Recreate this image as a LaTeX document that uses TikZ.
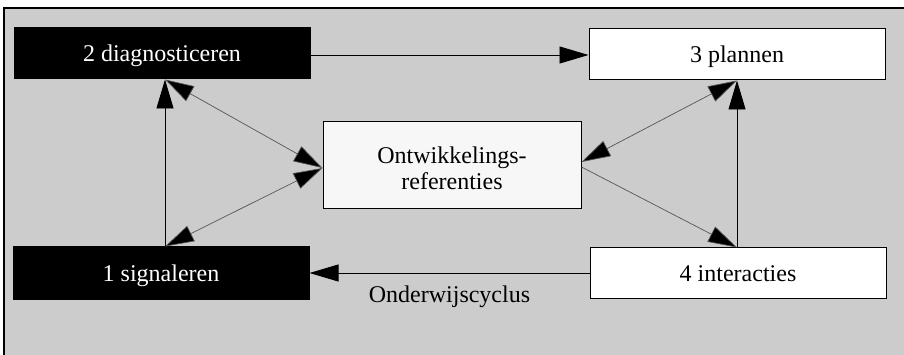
\documentclass[tikz,border=0pt]{standalone}
\usepackage{fontspec}
\setmainfont{Liberation Serif}
\usetikzlibrary{arrows.meta}
\definecolor{bggray}{HTML}{CCCCCC}
\definecolor{boxwhite}{HTML}{F7F7F7}
\definecolor{thingray}{HTML}{555555}
\tikzset{
  base/.style={font=\fontsize{24}{26}\selectfont, inner sep=0pt, text height=17pt, text depth=0pt, align=center},
  blackbox/.style={base, draw=black, fill=black, text=white, line width=1pt},
  whitebox/.style={base, draw=black, fill=white, text=black, line width=1pt},
  refbox/.style={base, draw=black, fill=boxwhite, text=black, line width=1pt, text height=49pt},
  mainarrow/.style={draw=black, line width=0.9pt, -{Triangle[length=29pt,width=17pt]}},
  thinarrow/.style={draw=thingray, line width=0.7pt, {Triangle[length=29pt,width=17pt,fill=black]}-{Triangle[length=29pt,width=17pt,fill=black]}},
  thinonearrow/.style={draw=thingray, line width=0.7pt, -{Triangle[length=29pt,width=17pt,fill=black]}}
}
\begin{document}
\begin{tikzpicture}[x=1pt,y=-1pt]
\useasboundingbox (0,0) rectangle (904,355);
\fill[bggray] (4,8) rectangle (904,355);
\draw[line width=1.5pt] (4,355) -- (4,8) -- (904,8);

\node[blackbox, minimum width=296pt, minimum height=51pt] (d2) at (162,53.5) {2 diagnosticeren};
\node[whitebox, minimum width=296pt, minimum height=51pt] (p3) at (737,54.5) {3 plannen};
\node[refbox, minimum width=258pt, minimum height=87pt] (o) at (452,165.5) {Ontwikkelings-\\referenties};
\node[blackbox, minimum width=296pt, minimum height=52pt] (s1) at (161,273) {1 signaleren};
\node[whitebox, minimum width=296pt, minimum height=50pt] (i4) at (738,273) {4 interacties};

\draw[mainarrow] (d2.east |- 0,55) -- (p3.west |- 0,55);
\draw[mainarrow] (i4.west) -- (s1.east)
  node[pos=0.5, below=12pt, font=\fontsize{24}{26}\selectfont, inner sep=0pt] (lab) {Onderwijscyclus};
\draw[mainarrow] ([xshift=4pt]s1.north) -- ([xshift=3pt]d2.south);
\draw[mainarrow] ([xshift=-1pt]i4.north) -- (p3.south);

\draw[thinarrow] ([xshift=3pt]d2.south) -- ([yshift=-2.5pt]o.west);
\draw[thinarrow] ([xshift=4pt]s1.north) -- ([yshift=-2.5pt]o.west);
\draw[thinarrow] ([yshift=3.5pt]o.east) -- (p3.south);
\draw[thinonearrow] ([yshift=-1.5pt]o.east) -- ([xshift=-1pt]i4.north);
\end{tikzpicture}
\end{document}
